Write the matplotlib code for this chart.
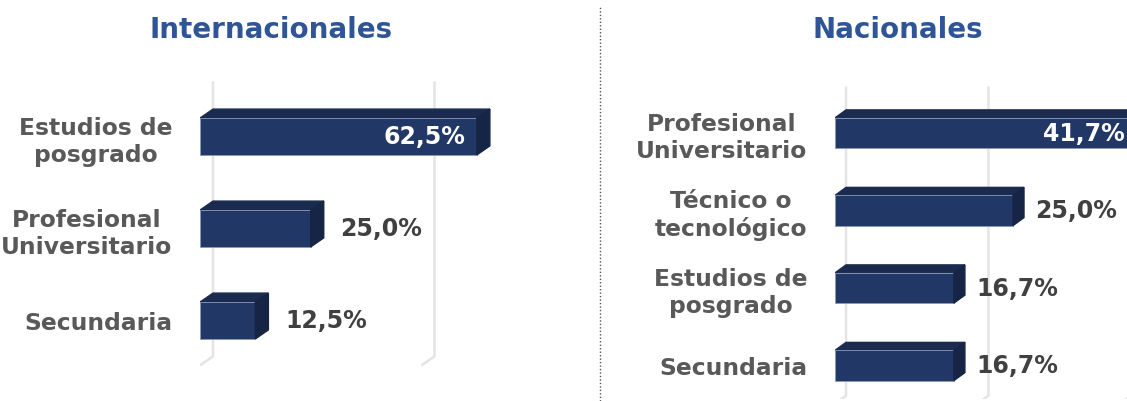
import numpy as np
import matplotlib
matplotlib.use("Agg")
import matplotlib.pyplot as plt
from matplotlib.patches import Polygon
from matplotlib.lines import Line2D

# data
int_cats = ["Estudios de\nposgrado", "Profesional\nUniversitario", "Secundaria"]
int_vals = [62.5, 25.0, 12.5]
nac_cats = ["Profesional\nUniversitario", "Técnico o\ntecnológico", "Estudios de\nposgrado", "Secundaria"]
nac_vals = [41.7, 25.0, 16.7, 16.7]
int_grid = [0, 50]
nac_grid = [0, 20, 40]

plt.rcParams['font.family'] = ['DejaVu Sans']

W, H = 1127, 402
fig = plt.figure(figsize=(W / 100, H / 100), dpi=100)

front = "#213765"
top_c = "#1b2b4f"
side_c = "#162545"
grid_c = "#e4e4e4"
lab_c = "#595959"
val_c = "#404040"


def px_axes(x0, y0, x1, y1):
    # pixel box (top-left origin) -> figure fraction
    return fig.add_axes([x0 / W, 1 - y1 / H, (x1 - x0) / W, (y1 - y0) / H])


def draw_panel(ax, cats, vals, grid, xmax, ylim, bh, dx, dy, inside, in_pad, pad_pts):
    n = len(cats)
    pos = np.arange(n)
    ax.set_xlim(0, xmax)
    ax.set_ylim(*ylim)
    # back gridlines with a little floor slant
    for g in grid:
        ax.plot([g + dx, g + dx, g], [-0.6, n - 1 + 0.39, n - 1 + 0.39 + dy],
                color=grid_c, lw=1.8, zorder=0, solid_capstyle="butt")
    ax.barh(pos, vals, height=bh, color=front, edgecolor="#8a9ab8", lw=0.6, zorder=3)
    for y, v in zip(pos, vals):
        t = y - bh / 2
        b = y + bh / 2
        ax.add_patch(Polygon([(0, t), (v, t), (v + dx, t - dy), (dx, t - dy)],
                             closed=True, color=top_c, zorder=2))
        ax.add_patch(Polygon([(v, t), (v + dx, t - dy), (v + dx, b - dy), (v, b)],
                             closed=True, color=side_c, zorder=4))
    for i, (y, v) in enumerate(zip(pos, vals)):
        txt = f"{v:.1f}%".replace(".", ",")
        if i == inside:
            ax.annotate(txt, (v, y), xytext=(in_pad, 0), textcoords="offset points",
                        ha="right", va="center", color="white", fontsize=17,
                        fontweight="bold", zorder=6, annotation_clip=False)
        else:
            ax.annotate(txt, (v + dx, y), xytext=(pad_pts, 0), textcoords="offset points",
                        ha="left", va="center", color=val_c, fontsize=17,
                        fontweight="bold", zorder=6)
    ax.set_yticks(pos)
    ax.set_yticklabels(cats)
    for lbl in ax.get_yticklabels():
        lbl.set_multialignment("center")
        lbl.set_fontsize(16.8)
        lbl.set_fontweight("bold")
        lbl.set_color(lab_c)
        lbl.set_linespacing(1.2)
    ax.tick_params(axis="y", length=0, pad=20)
    ax.set_xticks([])
    for s in ax.spines.values():
        s.set_visible(False)
    ax.patch.set_alpha(0)


# left panel: 0% at x=200 px, 4.43 px per %, bars 92 px apart
axL = px_axes(200, 60, 600, 380)
draw_panel(axL, int_cats, int_vals, int_grid,
           xmax=400 / 4.43, ylim=((380 - 137.5) / 92, (60 - 137.5) / 92),
           bh=0.40, dx=13 / 4.43, dy=9 / 92, inside=0, in_pad=-8, pad_pts=12)

# right panel: 0% at x=835 px, 7.12 px per %, bars 77.5 px apart
axR = px_axes(835, 60, W, 400)
draw_panel(axR, nac_cats, nac_vals, nac_grid,
           xmax=(W - 835) / 7.12, ylim=((400 - 134) / 77.5, (60 - 134) / 77.5),
           bh=0.39, dx=11 / 7.12, dy=8 / 77.5, inside=0, in_pad=-5, pad_pts=8)

fig.text(271 / W, 1 - 30 / H, "Internacionales", ha="center", va="center",
         fontsize=20, fontweight="bold", color="#2f5597")
fig.text(898 / W, 1 - 30 / H, "Nacionales", ha="center", va="center",
         fontsize=20, fontweight="bold", color="#2f5597")

fig.add_artist(Line2D([600 / W, 600 / W], [0, 1 - 7 / H], color="#555555",
                      lw=1, linestyle=(0, (1, 1.5)), transform=fig.transFigure))

fig.savefig("out.png", dpi=100, facecolor="white")
